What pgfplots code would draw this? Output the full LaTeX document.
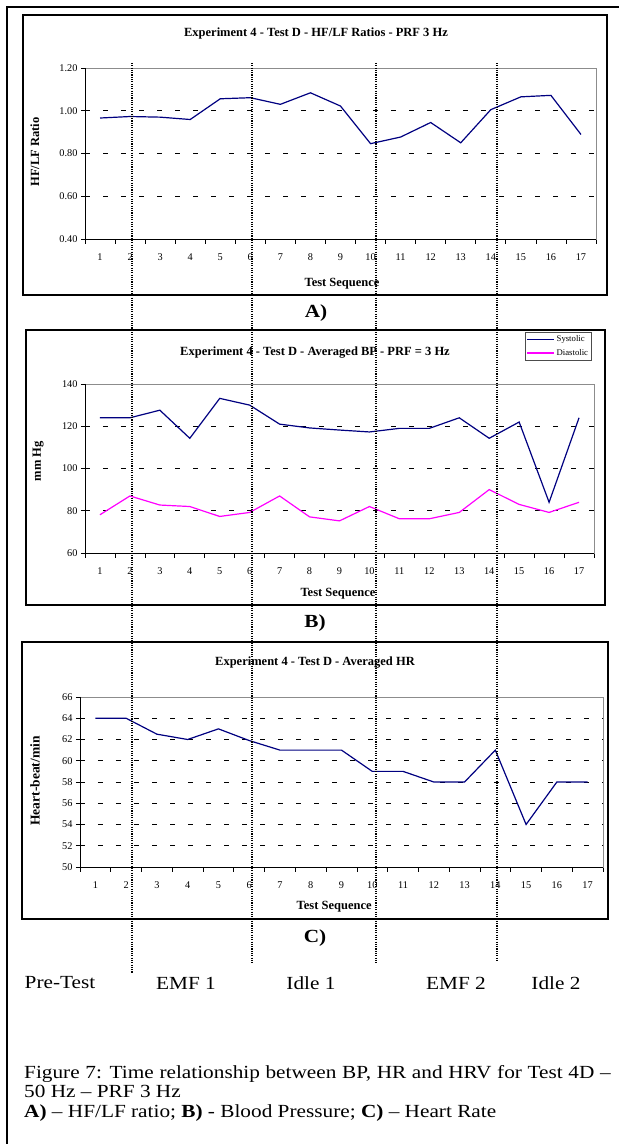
\documentclass[border=0pt]{standalone}
\usepackage{fontspec}
\setmainfont{Liberation Serif}
\usepackage{graphicx}
\usepackage{pgfplots}
\pgfplotsset{compat=1.18}
\definecolor{navy}{RGB}{0,0,128}
\definecolor{mag}{RGB}{255,0,255}
\definecolor{framegray}{RGB}{140,140,140}
\newcommand{\doc}[2]{\scalebox{1.15}[1]{\fontsize{#1}{#1}\selectfont #2}}

\pgfplotsset{
  panel/.style={
    scale only axis,
    xmin=0.5, xmax=17.5,
    xtick={1,...,17},
    minor xtick={0.5,1.5,...,17.5},
    tick style={black, line width=0.7pt},
    major x tick style={draw=none},
    minor tick length=5pt,
    major tick length=4pt,
    tick align=outside,
    xtick pos=bottom, ytick pos=left,
    ymajorgrids,
    major grid style={black, dash pattern=on 5pt off 13pt, line width=0.7pt},
    axis line style={framegray, line width=0.8pt},
    ticklabel style={font=\fontsize{10.3}{11}\selectfont},
    xticklabel style={yshift=-7pt},
    /pgf/number format/assume math mode=true,
    label style={font=\bfseries\fontsize{12.5}{14}\selectfont},
    every axis plot/.append style={line width=1.2pt, mark=none},
    clip=false,
  },
}

\begin{document}
\begin{tikzpicture}
\path[use as bounding box] (0pt,0pt) rectangle (619pt,1144pt);

% outer frame
\draw[line width=1.6pt] (7pt,0pt) -- (7pt,1137pt) -- (619pt,1137pt);

% chart boxes
\draw[line width=1.4pt] (23pt,1129pt) rectangle (607pt,849pt);
\draw[line width=1.4pt] (26pt,814pt) rectangle (605pt,539pt);
\draw[line width=1.4pt] (22pt,502pt) rectangle (608pt,225pt);

% ---------------- A) HF/LF ratio
\begin{axis}[panel, at={(85pt,905pt)}, anchor=south west, width=511pt, height=171pt,
  ymin=0.4, ymax=1.2, ytick={0.4,0.6,0.8,1.0,1.2},
  yticklabel style={/pgf/number format/.cd, fixed, fixed zerofill, precision=2},
  xlabel={Test Sequence}, xlabel style={at={(axis description cs:0.503,-0.263)}, anchor=center},
  ylabel={HF/LF Ratio}, ylabel style={at={(axis description cs:-0.098,0.509)}, anchor=center},
]
\addplot[navy] coordinates {
(1,0.966) (2,0.973) (3,0.970) (4,0.959) (5,1.056) (6,1.061) (7,1.030) (8,1.084) (9,1.022)
(10,0.846) (11,0.877) (12,0.945) (13,0.850) (14,1.005) (15,1.065) (16,1.072) (17,0.889)};
\draw[black, line width=0.8pt] (rel axis cs:0,1) -- (rel axis cs:0,0) -- (rel axis cs:1,0);
\end{axis}

% ---------------- B) Blood pressure
\begin{axis}[panel, at={(85pt,591pt)}, anchor=south west, width=509pt, height=169pt,
  ymin=60, ymax=140, ytick={60,80,...,140},
  xlabel={Test Sequence}, xlabel style={at={(axis description cs:0.497,-0.243)}, anchor=center},
  ylabel={mm Hg}, ylabel style={at={(axis description cs:-0.092,0.544)}, anchor=center},
  legend style={at={(0.864,1.308)}, anchor=north west, draw=black!70,
    font=\fontsize{8.7}{9.5}\selectfont, inner sep=1.5pt, row sep=2pt, cells={anchor=west}},
  legend image code/.code={\draw[#1, line width=1.2pt] (0pt,0pt) -- (27pt,0pt);},
]
\addplot[navy] coordinates {
(1,124) (2,124) (3,127.6) (4,114.3) (5,133.2) (6,130) (7,121) (8,119.2) (9,118.2)
(10,117.3) (11,119) (12,119) (13,124) (14,114.3) (15,122) (16,84) (17,124)};
\addlegendentry{Systolic}
\addplot[mag] coordinates {
(1,78.1) (2,87) (3,82.7) (4,82) (5,77.3) (6,79.2) (7,87) (8,77.1) (9,75.2)
(10,82) (11,76.2) (12,76.2) (13,79.2) (14,90) (15,83) (16,79.2) (17,84)};
\addlegendentry{Diastolic}
\draw[black, line width=0.8pt] (rel axis cs:0,1) -- (rel axis cs:0,0) -- (rel axis cs:1,0);
\end{axis}

% ---------------- C) Heart rate
\begin{axis}[panel, at={(80pt,277pt)}, anchor=south west, width=523pt, height=170pt,
  ymin=50, ymax=66, ytick={50,52,...,66},
  xlabel={Test Sequence}, xlabel style={at={(axis description cs:0.486,-0.235)}, anchor=center},
  ylabel={Heart-beat/min}, ylabel style={at={(axis description cs:-0.086,0.506)}, anchor=center,
    font=\bfseries\fontsize{13.5}{15}\selectfont},
]
\addplot[navy] coordinates {
(1,64) (2,64) (3,62.5) (4,62) (5,63) (6,61.9) (7,61) (8,61) (9,61)
(10,59) (11,59) (12,58) (13,58) (14,61) (15,54) (16,58) (17,58)};
\draw[black, line width=0.8pt] (rel axis cs:0,1) -- (rel axis cs:0,0) -- (rel axis cs:1,0);
\end{axis}

% titles
\node[font=\bfseries\fontsize{12.5}{14}\selectfont] at (316pt,1110pt) {Experiment 4 - Test D - HF/LF Ratios - PRF 3 Hz};
\node[font=\bfseries\fontsize{12.5}{14}\selectfont] at (315pt,791pt) {Experiment 4 - Test D - Averaged BP - PRF = 3 Hz};
\node[font=\bfseries\fontsize{12.5}{14}\selectfont] at (315pt,481pt) {Experiment 4 - Test D - Averaged HR};

% panel labels
\node at (316pt,831pt) {\doc{18.5}{\bfseries A)}};
\node at (315pt,521pt) {\doc{18.5}{\bfseries B)}};
\node at (315pt,206pt) {\doc{18.5}{\bfseries C)}};

% phase labels
\node at (60pt,161pt) {\doc{18.5}{Pre-Test}};
\node at (186pt,161pt) {\doc{18.5}{EMF 1}};
\node at (311pt,161pt) {\doc{18.5}{Idle 1}};
\node at (456pt,161pt) {\doc{18.5}{EMF 2}};
\node at (556pt,161pt) {\doc{18.5}{Idle 2}};

% caption
\node[anchor=base west, inner sep=0pt] at (24pt,65pt) {\scalebox{1.15}[1]{\fontsize{18.5}{18.5}\selectfont\makebox[510pt][s]{Figure 7: Time relationship between BP, HR and HRV for Test 4D --}}};
\node[anchor=base west, inner sep=0pt] at (24pt,46pt) {\doc{18.5}{50 Hz -- PRF 3 Hz}};
\node[anchor=base west, inner sep=0pt] at (24pt,27pt) {\doc{18.5}{\textbf{A)} -- HF/LF ratio; \textbf{B)} - Blood Pressure; \textbf{C)} -- Heart Rate}};

% dotted phase separators
\begin{scope}[line width=1.1pt, dash pattern=on 1.1pt off 1.2pt]
\draw (132pt,1081pt) -- (132pt,171pt);
\draw (252pt,1081pt) -- (252pt,181pt);
\draw (376pt,1081pt) -- (376pt,181pt);
\draw (497pt,1081pt) -- (497pt,183pt);
\end{scope}
\end{tikzpicture}
\end{document}
